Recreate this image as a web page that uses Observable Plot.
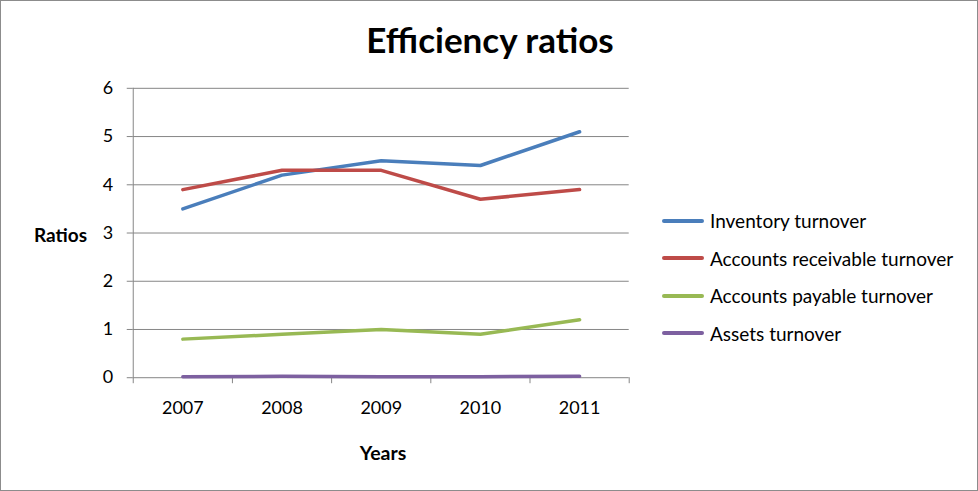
<!DOCTYPE html>
<html>
<head>
<meta charset="utf-8">
<script src="https://cdn.jsdelivr.net/npm/d3@7"></script>
<script src="https://cdn.jsdelivr.net/npm/@observablehq/plot@0.6"></script>
<style>
  html, body { margin: 0; padding: 0; background: #fff; }
  #wrap { position: relative; width: 976px; height: 489px; border: 1px solid #8c8c8c; overflow: hidden; font-family: Lato, "Open Sans", sans-serif; }
  #wrap svg { position: absolute; left: -1px; top: -1px; }
  .title { position: absolute; left: 0; width: 978px; top: 16px; text-align: center; font-size: 35px; font-weight: bold; color: #000; line-height: 44px; }
  .ylab { position: absolute; left: 33px; top: 222px; font-size: 19px; font-weight: bold; line-height: 24px; }
  .xlab { position: absolute; left: 282px; width: 200px; text-align: center; top: 440px; font-size: 19.5px; font-weight: bold; line-height: 24px; }
  .legend { position: absolute; left: 661px; top: 201px; font-size: 19px; }
  .legend .item { height: 37.5px; display: flex; align-items: center; }
  .legend .sw { width: 42px; height: 4px; border-radius: 2px; margin-right: 6px; }
</style>
</head>
<body>
<div id="wrap">
  <div class="title">Efficiency ratios</div>
  <div class="ylab">Ratios</div>
  <div class="xlab">Years</div>
  <div class="legend" id="legend"></div>
</div>
<script>
const years = [2007, 2008, 2009, 2010, 2011];
const seriesNames = ["Inventory turnover", "Accounts receivable turnover", "Accounts payable turnover", "Assets turnover"];
const inventory = [3.5, 4.2, 4.5, 4.4, 5.1];
const receivable = [3.9, 4.3, 4.3, 3.7, 3.9];
const payable = [0.8, 0.9, 1.0, 0.9, 1.2];
const assets = [0.02, 0.03, 0.02, 0.02, 0.03];
const colors = ["#4a7ebb", "#be4b48", "#98b954", "#7d60a0"];
const yTicks = [0, 1, 2, 3, 4, 5, 6];
const xBoundaries = [2006.5, 2007.5, 2008.5, 2009.5, 2010.5, 2011.5];

const valuesBySeries = [inventory, receivable, payable, assets];
const data = [];
seriesNames.forEach((s, k) => years.forEach((y, i) => data.push({series: s, year: y, value: valuesBySeries[k][i]})));

const grid = "#868686";
const chart = Plot.plot({
  width: 978,
  height: 491,
  marginLeft: 133,
  marginRight: 348,
  marginTop: 88,
  marginBottom: 113,
  style: {fontFamily: "Lato, 'Open Sans', sans-serif", fontSize: "18px", color: "#000", background: "transparent"},
  x: {domain: [2006.5, 2011.5]},
  y: {domain: [0, 6]},
  color: {domain: seriesNames, range: colors},
  marks: [
    Plot.gridY(yTicks.filter(d => d > 0), {stroke: grid, strokeOpacity: 1, strokeWidth: 1}),
    Plot.axisY(yTicks, {tickSize: 6, tickPadding: 14, stroke: grid, label: null, fill: "#000", fontSize: 18}),
    Plot.axisX(xBoundaries, {tickSize: 6, tickFormat: () => "", stroke: grid, label: null}),
    Plot.axisX(years, {tickSize: 0, tickPadding: 24, tickFormat: d => String(d), label: null, fill: "#000", fontSize: 18}),
    Plot.ruleX([2006.5], {stroke: grid}),
    Plot.ruleY([0], {stroke: grid}),
    Plot.line(data, {x: "year", y: "value", z: "series", stroke: "series", strokeWidth: 3.5, strokeLinecap: "round", strokeLinejoin: "round"})
  ]
});
document.getElementById("wrap").appendChild(chart);

const legend = document.getElementById("legend");
seriesNames.forEach((s, k) => {
  const item = document.createElement("div");
  item.className = "item";
  const sw = document.createElement("div");
  sw.className = "sw";
  sw.style.background = colors[k];
  const label = document.createElement("span");
  label.textContent = s;
  item.appendChild(sw);
  item.appendChild(label);
  legend.appendChild(item);
});
</script>
</body>
</html>
